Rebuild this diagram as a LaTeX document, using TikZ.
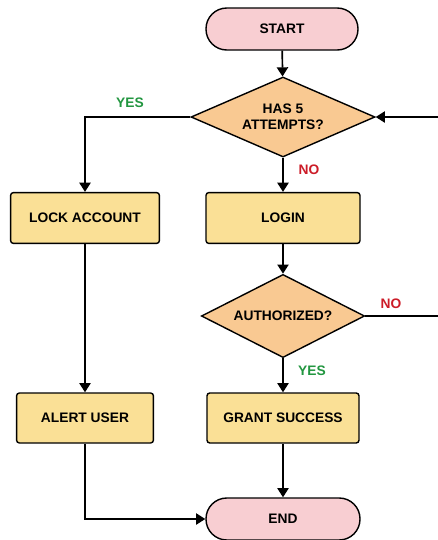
\documentclass[tikz,border=0pt]{standalone}
\usepackage{fontspec}
\setmainfont{Liberation Sans}
\usetikzlibrary{shapes.geometric,arrows.meta}
\definecolor{termfill}{RGB}{248,206,210}
\definecolor{boxfill}{RGB}{250,224,150}
\definecolor{askfill}{RGB}{249,201,146}
\definecolor{yesgreen}{RGB}{34,150,64}
\definecolor{nored}{RGB}{204,28,40}
\begin{document}
\begin{tikzpicture}[
    font=\fontsize{9.8}{11.5}\selectfont\bfseries,
    term/.style={draw,line width=1pt,fill=termfill,rounded corners=0.52cm,
      minimum height=1.05cm,align=center},
    stepbox/.style={draw,line width=1pt,fill=boxfill,rounded corners=2pt,
      minimum height=1.27cm,align=center},
    ask/.style={draw,line width=1pt,fill=askfill,diamond,inner sep=0pt,
      align=center},
    arr/.style={line width=1.2pt,-{Triangle[length=2.3mm,width=2.8mm]}},
    yes/.style={text=yesgreen},
    no/.style={text=nored}]
    \useasboundingbox (0,0) rectangle (10.95,-13.5);

    \node[term,minimum width=3.8cm] (start) at (7.05,-0.725) {START};
    \node[ask,aspect=2.3,minimum width=4.6cm,minimum height=2cm] (attempts) at (7.075,-2.925) {HAS 5\\ATTEMPTS?};
    \node[stepbox,minimum width=3.72cm] (lock) at (2.125,-5.45) {LOCK ACCOUNT};
    \node[stepbox,minimum width=3.85cm] (login) at (7.075,-5.45) {LOGIN};
    \node[ask,aspect=1.96,minimum width=4.08cm,minimum height=2.08cm] (auth) at (7.075,-7.9) {AUTHORIZED?};
    \node[stepbox,minimum width=3.42cm,minimum height=1.25cm] (alert) at (2.125,-10.45) {ALERT USER};
    \node[stepbox,minimum width=3.8cm,minimum height=1.25cm] (grant) at (7.075,-10.45) {GRANT SUCCESS};
    \node[term,minimum width=3.85cm] (end) at (7.075,-12.975) {END};

    \coordinate (loopin) at (10.95,-2.925);
    \coordinate (loopout) at (10.95,-7.9);

    \draw[arr] (start) -- (attempts);
    \draw[arr] (attempts.west) -| (lock.north);
    \draw[arr] (attempts.south) -- (login.north);
    \draw[arr] (loopin) -- (attempts.east);
    \draw[arr] (login) -- (auth);
    \draw[line width=1.2pt] (auth.east) -- (loopout);
    \draw[arr] (auth.south) -- (grant.north);
    \draw[arr] (lock) -- (alert);
    \draw[arr] (grant) -- (end);
    \draw[arr] (alert.south) |- (end.west);

    \node[yes] (yes1) at (3.25,-2.575) {YES};
    \node[no] (no1) at (7.725,-4.25) {NO};
    \node[no] (no2) at (9.775,-7.6) {NO};
    \node[yes] (yes2) at (7.8,-9.275) {YES};
  \end{tikzpicture}
\end{document}
